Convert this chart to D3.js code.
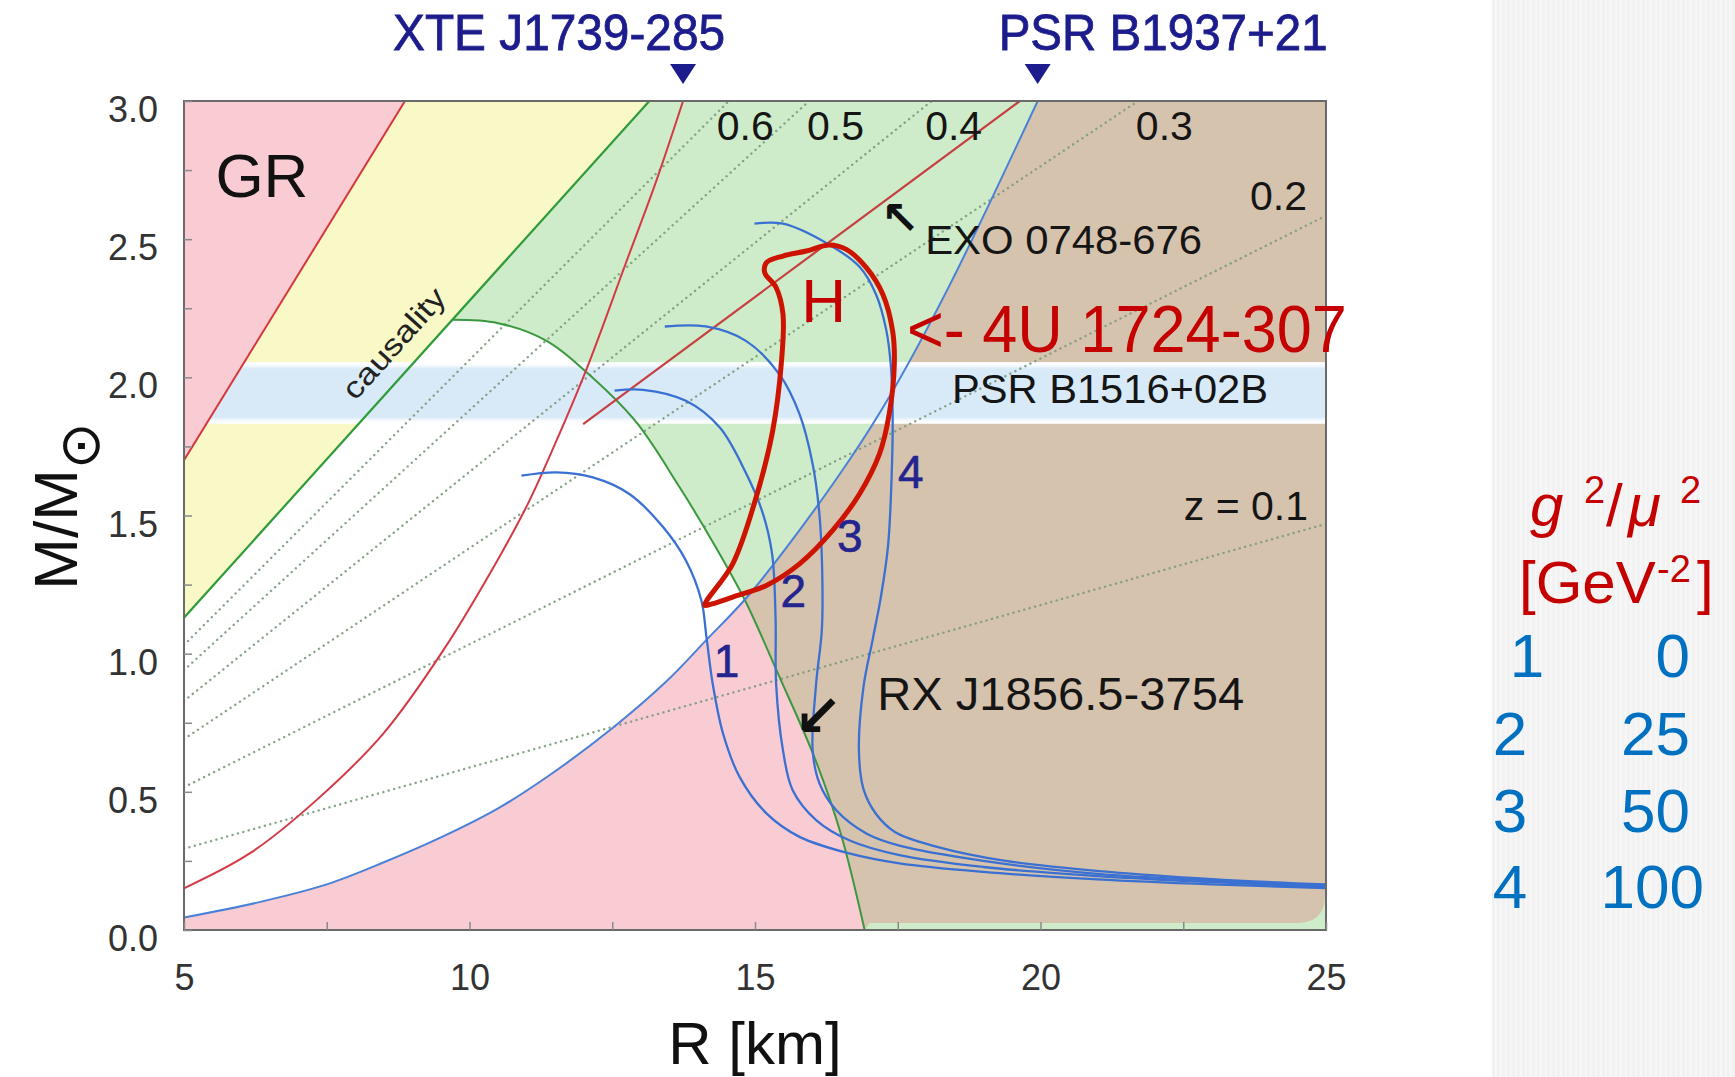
<!DOCTYPE html>
<html>
<head>
<meta charset="utf-8">
<script src="https://cdn.jsdelivr.net/npm/d3@7"></script>
<style>
html, body { margin: 0; padding: 0; background: #fff; }
svg { display: block; font-family: "Liberation Sans", Arial, sans-serif; }
</style>
</head>
<body>
<svg id="chart" width="1735" height="1077"></svg>
<script>
// ---- data (R in km, M in solar masses) ----
const rTicks = [5, 7.5, 10, 12.5, 15, 17.5, 20, 22.5, 25];
const rTickLabels = ["5", "", "10", "", "15", "", "20", "", "25"];
const mTicks = [0, 0.25, 0.5, 0.75, 1, 1.25, 1.5, 1.75, 2, 2.25, 2.5, 2.75, 3];
const mTickLabels = ["0.0", "", "0.5", "", "1.0", "", "1.5", "", "2.0", "", "2.5", "", "3.0"];

const grLimit = [[5, 1.70], [8.87, 3.0]];
const causality = [[5, 1.13], [9.71, 2.208], [13.15, 3.0]];
const crossing = [14.82, 1.195];
const maxMass = [[9.71, 2.208], [10.5, 2.196], [11.35, 2.132], [12.02, 2.024], [12.9, 1.843], [13.68, 1.602],
  [14.3, 1.39], [14.82, 1.195], [15.43, 0.915], [16.05, 0.62], [16.5, 0.35], [16.92, 0]];
const psrB1937 = [[5, 0.045], [6.3, 0.1], [7.5, 0.165], [8.5, 0.245], [9.5, 0.335], [10.5, 0.44], [11.4, 0.56],
  [12.5, 0.73], [13.45, 0.9], [14.15, 1.05], [14.82, 1.195], [15.5, 1.37], [16.65, 1.7], [17.41, 1.95],
  [18.4, 2.33], [19.95, 3.0]];
const xteJ1739 = [[5, 0.151], [6.15, 0.277], [7.32, 0.47], [8.49, 0.711], [9.54, 1.012], [10.55, 1.36],
  [11.05, 1.554], [11.5, 1.76], [12.05, 2.03], [12.75, 2.42], [13.27, 2.71], [13.74, 3.0]];
const exo0748 = [[11.99, 1.831], [19.64, 3.0]];
const psrB1516 = [1.832, 2.055];

const redshiftLabels = ["z = 0.1", "0.2", "0.3", "0.4", "0.5", "0.6"];
const redshiftSlopes = [0.0588, 0.1034, 0.1382, 0.1658, 0.1881, 0.2063];

const eos1 = [[10.91, 1.644], [11.52, 1.656], [12.16, 1.638], [12.8, 1.578], [13.39, 1.458], [13.79, 1.337],
  [14.06, 1.193], [14.15, 1.06], [14.26, 0.89], [14.44, 0.711], [14.73, 0.554], [15.2, 0.422], [15.78, 0.337],
  [16.65, 0.277], [17.53, 0.241], [19, 0.21], [21, 0.183], [23, 0.165], [25, 0.152]];
const eos2 = [[12.54, 1.952], [13.04, 1.955], [13.79, 1.915], [14.38, 1.819], [14.85, 1.65], [15.14, 1.506],
  [15.3, 1.36], [15.36, 1.13], [15.37, 0.89], [15.49, 0.65], [15.66, 0.506], [16.07, 0.398], [16.65, 0.325],
  [17.53, 0.271], [19, 0.228], [21, 0.195], [23, 0.173], [25, 0.157]];
const eos3 = [[13.42, 2.184], [14.14, 2.184], [14.84, 2.132], [15.43, 2.01], [15.78, 1.867], [16.01, 1.686],
  [16.13, 1.5], [16.18, 1.265], [16.17, 1.084], [16.07, 0.89], [16.01, 0.65], [16.13, 0.53], [16.42, 0.434],
  [16.95, 0.349], [17.53, 0.305], [19, 0.25], [21, 0.203], [23, 0.179], [25, 0.161]];
const eos4 = [[14.99, 2.556], [15.49, 2.556], [16.3, 2.48], [16.83, 2.4], [17.12, 2.3], [17.3, 2.17],
  [17.38, 2.04], [17.41, 1.87], [17.4, 1.69], [17.33, 1.39], [17.2, 1.2], [17.06, 1.05], [16.9, 0.88],
  [16.82, 0.65], [16.9, 0.51], [17.12, 0.42], [17.45, 0.355], [18.19, 0.301], [19.39, 0.25], [21.2, 0.21],
  [23, 0.184], [25, 0.165]];
const curveIds = ["1", "2", "3", "4"];
const couplings = ["0", "25", "50", "100"];

const hContour = [[14.12, 1.175], [14.61, 1.325], [15.02, 1.566], [15.31, 1.807], [15.46, 2.048], [15.49, 2.228],
  [15.37, 2.325], [15.17, 2.379], [15.2, 2.415], [15.49, 2.439], [15.9, 2.457], [16.3, 2.479], [16.6, 2.463],
  [16.95, 2.397], [17.24, 2.3], [17.41, 2.168], [17.44, 2.048], [17.35, 1.867], [17.18, 1.723], [16.83, 1.578],
  [16.36, 1.446], [15.78, 1.325], [15.2, 1.247], [14.61, 1.205], [14.25, 1.18]];

// ---- setup ----
const svg = d3.select("#chart");
const x = d3.scaleLinear().domain([5, 25]).range([184, 1326]);
const y = d3.scaleLinear().domain([0, 3]).range([930, 101]);

const line = d3.line().x(d => x(d[0])).y(d => y(d[1])).curve(d3.curveCatmullRom.alpha(0.5));
const straight = d3.line().x(d => x(d[0])).y(d => y(d[1]));
const cont = p => p.replace(/^M/, "L");

const defs = svg.append("defs");
defs.append("clipPath").attr("id", "plotclip").append("rect")
  .attr("x", x(5)).attr("y", y(3)).attr("width", x(25) - x(5)).attr("height", y(0) - y(3));

const grad = defs.append("linearGradient").attr("id", "band").attr("x1", 0).attr("x2", 0).attr("y1", 0).attr("y2", 1);
[[0, "#ffffff"], [0.05, "#f8fbfe"], [0.11, "#d8eaf8"], [0.89, "#d8eaf8"], [0.95, "#f8fbfe"], [1, "#ffffff"]]
  .forEach(s => grad.append("stop").attr("offset", s[0]).attr("stop-color", s[1]));

const pat = defs.append("pattern").attr("id", "stripes").attr("patternUnits", "userSpaceOnUse")
  .attr("width", 5).attr("height", 5);
pat.append("rect").attr("width", 5).attr("height", 5).attr("fill", "#f2f2f2");
pat.append("rect").attr("width", 1.5).attr("height", 5).attr("fill", "#f8f8f8");

// right side panel
svg.append("rect").attr("x", 1492).attr("y", 0).attr("width", 243).attr("height", 1077).attr("fill", "url(#stripes)");

// ---- regions ----
const psrLow = psrB1937.filter(d => d[1] <= crossing[1]);
const psrHigh = psrB1937.filter(d => d[1] >= crossing[1]);
const greenLow = maxMass.filter(d => d[1] <= crossing[1]);
const greenEnd = greenLow[greenLow.length - 1];

const regions = svg.append("g");
regions.append("rect").attr("x", x(5)).attr("y", y(3)).attr("width", x(25) - x(5)).attr("height", y(0) - y(3))
  .attr("fill", "#ceecc9");

regions.append("path").attr("fill", "#ffffff")
  .attr("d", straight(causality.slice(0, 2)) + cont(line(maxMass)) + `L${x(5)},${y(0)}Z`);

regions.append("path").attr("fill", "#f9cbd3")
  .attr("d", line(psrLow) + cont(line(greenLow)) + `L${x(5)},${y(0)}Z`);

const bx = x(25) - 1, by = y(0) - 7, rr = 28;
regions.append("path").attr("fill", "#d6c3ae")
  .attr("d", line(psrHigh.slice().reverse()) + cont(line(greenLow)) +
    `L${x(greenEnd[0]) + 5},${by}L${bx - rr},${by}Q${bx},${by} ${bx},${by - rr}L${bx},${y(3)}Z`);

regions.append("path").attr("fill", "#f9f8c7")
  .attr("d", straight([grLimit[0], grLimit[1], causality[2], causality[0]]) + "Z");

regions.append("rect").attr("x", x(5)).attr("width", x(25) - x(5))
  .attr("y", y(psrB1516[1])).attr("height", y(psrB1516[0]) - y(psrB1516[1]))
  .attr("fill", "url(#band)");

regions.append("path").attr("fill", "#f9cbd3")
  .attr("d", `M${x(5)},${y(grLimit[0][1])}L${x(5)},${y(3)}` + cont(straight([grLimit[1]])) + "Z");

// ---- lines ----
const lines = svg.append("g").attr("clip-path", "url(#plotclip)").attr("fill", "none");

lines.selectAll(".zline").data(redshiftSlopes).join("path").attr("class", "zline")
  .attr("d", s => straight([[5, 5 * s], [25, 25 * s]]))
  .attr("stroke", "#7b9b7c").attr("stroke-width", 2.4).attr("stroke-dasharray", "0.1,5.5")
  .attr("stroke-linecap", "round").attr("opacity", 0.9);

lines.append("path").attr("d", straight(grLimit)).attr("stroke", "#d4373c").attr("stroke-width", 2);
lines.append("path").attr("d", straight([causality[0], causality[2]])).attr("stroke", "#2f9b3a").attr("stroke-width", 2.2);
lines.append("path").attr("d", line(maxMass)).attr("stroke", "#3a983f").attr("stroke-width", 2);
lines.append("path").attr("d", line(xteJ1739)).attr("stroke", "#d43a46").attr("stroke-width", 2);
lines.append("path").attr("d", straight(exo0748)).attr("stroke", "#c64040").attr("stroke-width", 2.2);
lines.append("path").attr("d", line(psrB1937)).attr("stroke", "#4a80d8").attr("stroke-width", 2);

lines.selectAll(".eos").data([eos1, eos2, eos3, eos4]).join("path").attr("class", "eos")
  .attr("d", d => line(d)).attr("stroke", "#3a70d2").attr("stroke-width", 2.3);

lines.append("path").attr("d", d3.line().x(d => x(d[0])).y(d => y(d[1]))
  .curve(d3.curveCatmullRomClosed.alpha(0.5))(hContour))
  .attr("stroke", "#cc1400").attr("stroke-width", 5).attr("stroke-linejoin", "round");

// frame
svg.append("rect").attr("x", x(5)).attr("y", y(3)).attr("width", x(25) - x(5)).attr("height", y(0) - y(3))
  .attr("fill", "none").attr("stroke", "#6a6a6a").attr("stroke-width", 2);

// ---- axes ----
const xAxis = d3.axisBottom(x).tickValues(rTicks).tickSizeInner(-8).tickSizeOuter(0).tickPadding(34)
  .tickFormat((d, i) => rTickLabels[i]);
svg.append("g").attr("transform", `translate(0,${y(0)})`).call(xAxis)
  .call(g => g.select(".domain").remove())
  .call(g => g.selectAll(".tick line").attr("stroke", "#8a8a8a").attr("stroke-width", 1.5))
  .call(g => g.selectAll("text").attr("font-size", 36).attr("fill", "#333")
    .attr("font-family", "Liberation Sans, Arial, sans-serif"));

const yAxis = d3.axisLeft(y).tickValues(mTicks).tickSizeInner(-8).tickSizeOuter(0).tickPadding(26)
  .tickFormat((d, i) => mTickLabels[i]);
svg.append("g").attr("transform", `translate(${x(5)},0)`).call(yAxis)
  .call(g => g.select(".domain").remove())
  .call(g => g.selectAll(".tick line").attr("stroke", "#8a8a8a").attr("stroke-width", 1.5))
  .call(g => g.selectAll("text").attr("font-size", 36).attr("fill", "#333").attr("y", 9)
    .attr("font-family", "Liberation Sans, Arial, sans-serif"));

// axis titles
svg.append("text").attr("x", (x(5) + x(25)) / 2).attr("y", 1064).attr("text-anchor", "middle")
  .attr("font-size", 60).attr("fill", "#111").text("R [km]");
const yt = svg.append("text").attr("transform", "translate(77,506) rotate(-90)").attr("text-anchor", "middle")
  .attr("font-size", 62).attr("fill", "#111");
yt.append("tspan").text("M/M");
yt.append("tspan").attr("dy", 22).attr("font-family", "DejaVu Sans").attr("font-size", 56).text("\u2299");

// ---- labels ----
const navy = "#1c1c8c";
function topMarker(r, label, dx, anchor, len) {
  svg.append("path").attr("transform", `translate(${x(r)},64)`).attr("d", "M-13,0L13,0L0,20Z").attr("fill", navy);
  svg.append("text").attr("x", x(r) + dx).attr("y", 50).attr("text-anchor", anchor).attr("font-size", 50)
    .attr("fill", navy).attr("stroke", navy).attr("stroke-width", 0.8)
    .attr("textLength", len).attr("lengthAdjust", "spacingAndGlyphs").text(label);
}
topMarker(xteJ1739[xteJ1739.length - 1][0], "XTE J1739-285", 42, "end", 332);
topMarker(psrB1937[psrB1937.length - 1][0], "PSR B1937+21", -39, "start", 329);

svg.append("text").attr("x", x(5.55)).attr("y", y(2.652)).attr("font-size", 62).attr("fill", "#111").text("GR");

const ang = Math.atan2(y(causality[2][1]) - y(causality[0][1]), x(causality[2][0]) - x(causality[0][0])) * 180 / Math.PI;
svg.append("text").attr("transform", `translate(${x(9.03)},${y(2.057)}) rotate(${ang})`).attr("y", -17)
  .attr("text-anchor", "middle").attr("font-size", 30).attr("fill", "#222")
  .attr("textLength", 138).attr("lengthAdjust", "spacingAndGlyphs").text("causality");

const zPos = [[22.51, 1.484], [23.67, 2.606], [21.67, 2.859], [17.98, 2.859], [15.91, 2.859], [14.33, 2.859]];
svg.selectAll(".zlab").data(redshiftLabels).join("text").attr("class", "zlab")
  .attr("x", (d, i) => x(zPos[i][0])).attr("y", (d, i) => y(zPos[i][1]))
  .attr("font-size", 41).attr("fill", "#151515").text(d => d);

svg.append("text").attr("x", x(17.98)).attr("y", y(2.447)).attr("font-size", 40).attr("fill", "#151515")
  .attr("textLength", 277).attr("lengthAdjust", "spacingAndGlyphs").text("EXO 0748-676");
svg.append("text").attr("x", 900).attr("y", 234).attr("text-anchor", "middle").attr("font-size", 46)
  .attr("font-family", "DejaVu Sans").attr("font-weight", "bold").attr("fill", "#111").text("\u2196");

svg.append("text").attr("x", x(18.45)).attr("y", y(1.907)).attr("font-size", 40).attr("fill", "#151515")
  .attr("textLength", 316).attr("lengthAdjust", "spacingAndGlyphs").text("PSR B1516+02B");

svg.append("text").attr("x", x(17.14)).attr("y", y(0.796)).attr("font-size", 46).attr("fill", "#151515")
  .attr("textLength", 367).attr("lengthAdjust", "spacingAndGlyphs").text("RX J1856.5-3754");
svg.append("text").attr("x", 818).attr("y", 736).attr("text-anchor", "middle").attr("font-size", 58)
  .attr("font-family", "DejaVu Sans").attr("font-weight", "bold").attr("fill", "#111").text("\u2199");

const idPos = [[14.5, 0.915], [15.67, 1.169], [16.66, 1.368], [17.73, 1.6]];
svg.selectAll(".cid").data(curveIds).join("text").attr("class", "cid")
  .attr("x", (d, i) => x(idPos[i][0])).attr("y", (d, i) => y(idPos[i][1])).attr("text-anchor", "middle")
  .attr("font-size", 46).attr("fill", "#24248e").attr("stroke", "#24248e").attr("stroke-width", 0.6).text(d => d);

const red = "#c40000";
svg.append("text").attr("x", x(16.2)).attr("y", y(2.2)).attr("text-anchor", "middle").attr("font-size", 62)
  .attr("fill", red).text("H");
svg.append("text").attr("x", x(17.66)).attr("y", y(2.092)).attr("font-size", 66).attr("fill", red)
  .attr("textLength", 440).attr("lengthAdjust", "spacingAndGlyphs").text("<- 4U 1724-307");

// ---- side legend ----
const side = svg.append("g").attr("fill", red);
side.append("text").attr("x", 1530).attr("y", 526).attr("font-size", 60).attr("font-style", "italic").text("g");
side.append("text").attr("x", 1584).attr("y", 503).attr("font-size", 38).text("2");
side.append("text").attr("x", 1606).attr("y", 526).attr("font-size", 60).text("/");
side.append("text").attr("x", 1628).attr("y", 526).attr("font-size", 60).attr("font-style", "italic").text("\u03bc");
side.append("text").attr("x", 1680).attr("y", 503).attr("font-size", 38).text("2");
side.append("text").attr("x", 1519).attr("y", 603).attr("font-size", 60).text("[GeV");
side.append("text").attr("x", 1657).attr("y", 582).attr("font-size", 38).text("-2");
side.append("text").attr("x", 1697).attr("y", 603).attr("font-size", 60).text("]");

const rowY = [677, 755, 832, 908];
const idX = [1527, 1510, 1510, 1510];
const legend = svg.append("g").attr("fill", "#0070c0").attr("font-size", 62);
legend.selectAll(".lid").data(curveIds).join("text").attr("class", "lid")
  .attr("x", (d, i) => idX[i]).attr("y", (d, i) => rowY[i]).attr("text-anchor", "middle").text(d => d);
legend.selectAll(".lval").data(couplings).join("text").attr("class", "lval")
  .attr("x", (d, i) => (d.length > 2 ? 1704 : 1690)).attr("y", (d, i) => rowY[i]).attr("text-anchor", "end").text(d => d);
</script>
</body>
</html>
